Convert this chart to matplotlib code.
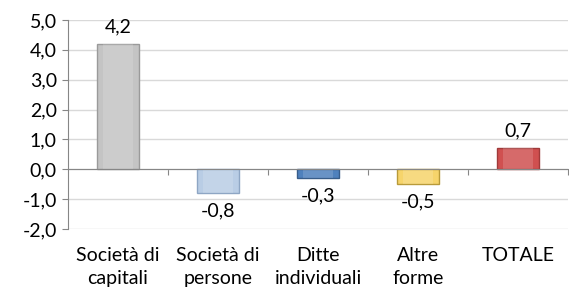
import matplotlib.pyplot as plt
import matplotlib.transforms as mtransforms
import numpy as np

categorie = ['Società di\ncapitali', 'Società di\npersone', 'Ditte\nindividuali', 'Altre\nforme', 'TOTALE']
valori = [4.2, -0.8, -0.3, -0.5, 0.7]
colori = ['#c4c4c4', '#b9cde5', '#4f81bd', '#f6d46b', '#d05050']
bordi = ['#9a9a9a', '#8ea6c4', '#385d8a', '#b89a3a', '#a03a3a']
tick_y = [-2, -1, 0, 1, 2, 3, 4, 5]

plt.rcParams['font.family'] = ['Lato', 'DejaVu Sans']
fs = 14

fig = plt.figure(figsize=(5.69, 2.94), dpi=100)
ax = fig.add_axes([0.1195, 0.221, 0.879, 0.711])

x = np.arange(len(valori))
ax.bar(x, valori, width=0.42, color=colori, edgecolor=bordi, linewidth=1, zorder=3)
# effetto rilievo: riflesso chiaro al centro
ax.bar(x, valori, width=0.30, color='white', alpha=0.15, linewidth=0, zorder=3)

ax.set_xlim(-0.5, len(valori) - 0.5)
ax.set_ylim(-2, 5)
ax.set_yticks(tick_y)
ax.set_yticklabels([f'{v:.1f}'.replace('.', ',') for v in tick_y], fontsize=fs)
ax.grid(axis='y', color='#d9d9d9', linewidth=1, zorder=0)
ax.tick_params(axis='y', length=4, color='#868686', pad=4)

for s in ['top', 'right']:
    ax.spines[s].set_visible(False)
ax.spines['left'].set_color('#868686')
ax.spines['bottom'].set_position(('data', 0))
ax.spines['bottom'].set_color('#868686')
ax.spines['bottom'].set_zorder(4)

ax.set_xticks(x + 0.5)
ax.set_xticklabels([])
ax.tick_params(axis='x', length=4, color='#868686', direction='out')

# etichette categorie sotto il grafico
trans = mtransforms.blended_transform_factory(ax.transData, ax.transAxes)
for i, c in enumerate(categorie):
    ax.text(i, -0.085, c, transform=trans, ha='center', va='top', fontsize=fs, linespacing=1.45)

# etichette valori
for i, v in enumerate(valori):
    lab = f'{v:.1f}'.replace('.', ',')
    if v >= 0:
        ax.text(i, v + 0.3, lab, ha='center', va='bottom', fontsize=fs)
    else:
        ax.text(i, v - 0.3, lab, ha='center', va='top', fontsize=fs)

fig.savefig('out.png', dpi=100)
